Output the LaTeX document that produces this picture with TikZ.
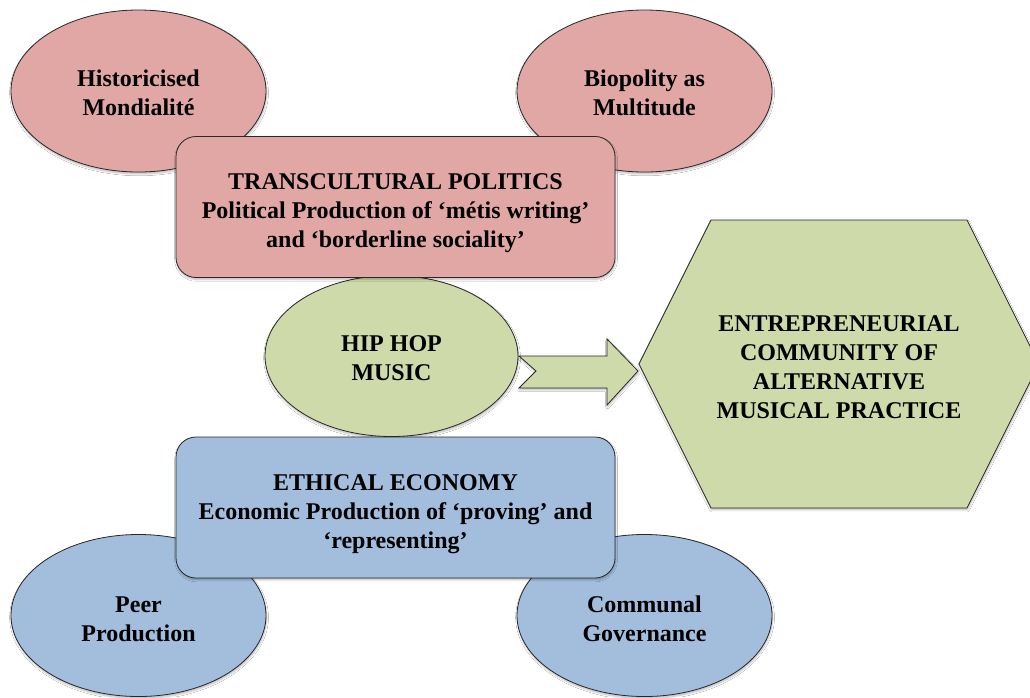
\documentclass[tikz,border=0pt]{standalone}
\usepackage{fontspec}
\setmainfont{Liberation Serif}
\usetikzlibrary{shapes.geometric,shadows.blur}
\definecolor{pinkfill}{RGB}{224,167,165}
\definecolor{greenfill}{RGB}{206,218,170}
\definecolor{bluefill}{RGB}{163,190,221}
\definecolor{edge}{RGB}{40,40,40}
\tikzset{
  shade/.style={blur shadow={shadow xshift=0.4pt,shadow yshift=-1.4pt,shadow blur radius=1.4pt,shadow opacity=28,shadow blur steps=6}},
  txt/.style={font=\fontsize{18pt}{21.75pt}\selectfont\bfseries,align=center,text=black,inner sep=0pt},
  oval/.style={ellipse,draw=edge,line width=0.6pt,inner sep=0pt,minimum width=191.25pt,minimum height=121.5pt,shade},
  panel/.style={rectangle,rounded corners=15pt,draw=edge,line width=0.6pt,inner sep=0pt,minimum width=329.25pt,minimum height=105.75pt,shade},
  block/.style={draw=edge,line width=0.6pt,shade},
}
\begin{document}
\begin{tikzpicture}[x=0.75pt,y=-0.75pt]
\clip (0,0) rectangle (1030,697);
\fill[white] (0,0) rectangle (1030,697);
% top ellipses
\node[oval,fill=pinkfill] (hm) at (138.5,91) {};
\node[txt] (hmt) at (138.5,93) {Historicised\\Mondialité};
\node[oval,fill=pinkfill] (bm) at (644.5,91) {};
\node[txt] (bmt) at (644.5,93) {Biopolity as\\Multitude};
% green ellipse
\node[oval,fill=greenfill,minimum width=189.75pt,minimum height=120.75pt] (hh) at (391.5,356) {};
\node[txt] (hht) at (391.5,358) {HIP HOP\\MUSIC};
% pink panel
\node[panel,fill=pinkfill] (tp) at (395.5,207) {};
\node[txt] (tpt) at (395.5,213) {TRANSCULTURAL POLITICS\\Political Production of ‘métis writing’\\and ‘borderline sociality’};
% bottom ellipses
\node[oval,fill=bluefill] (pp) at (138.5,615.5) {};
\node[txt] (ppt) at (138.5,619) {Peer\\Production};
\node[oval,fill=bluefill] (cg) at (644.5,615.5) {};
\node[txt] (cgt) at (644.5,619) {Communal\\Governance};
% blue panel
\node[panel,fill=bluefill] (ee) at (395.5,507.5) {};
\node[txt] (eet) at (395.5,514) {ETHICAL ECONOMY\\Economic Production of ‘proving’ and\\‘representing’};
% hexagon
\coordinate (h1) at (639,364);
\coordinate (h2) at (711,220);
\coordinate (h3) at (967,220);
\coordinate (h4) at (1039,364);
\coordinate (h5) at (967,508);
\coordinate (h6) at (711,508);
\draw[block,fill=greenfill] (h1) -- (h2) -- (h3) -- (h4) -- (h5) -- (h6) -- cycle;
\node[txt] (ec) at (839,367) {ENTREPRENEURIAL\\COMMUNITY OF\\ALTERNATIVE\\MUSICAL PRACTICE};
% block arrow
\coordinate (a1) at (519,356);
\coordinate (a2) at (607,356);
\coordinate (a3) at (607,339);
\coordinate (a4) at (638,371);
\coordinate (a5) at (607,405);
\coordinate (a6) at (607,388);
\coordinate (a7) at (519,388);
\coordinate (a8) at (536,371);
\draw[block,fill=greenfill,line join=miter] (a1) -- (a2) -- (a3) -- (a4) -- (a5) -- (a6) -- (a7) -- (a8) -- cycle;
\end{tikzpicture}
\end{document}
